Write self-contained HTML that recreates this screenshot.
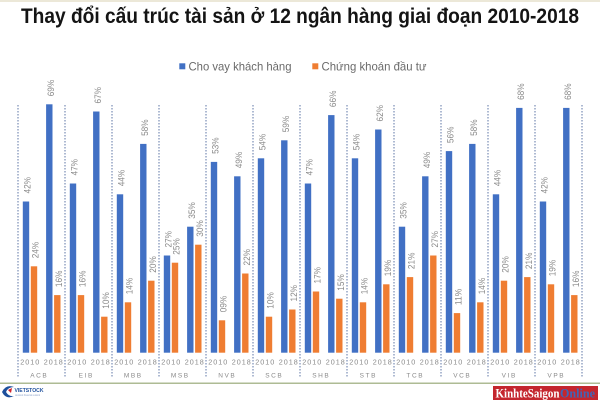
<!DOCTYPE html>
<html>
<head>
<meta charset="utf-8">
<style>
html,body{margin:0;padding:0;background:#fff;}
svg{display:block;}
.t{font-family:"Liberation Sans",sans-serif;}
.lbl{font-family:"Liberation Sans",sans-serif;font-size:9.5px;fill:#8a8a8a;}
.yr{font-family:"Liberation Sans",sans-serif;font-size:7.2px;fill:#8a8a8a;}
.bk{font-family:"Liberation Sans",sans-serif;font-size:6.5px;fill:#8a8a8a;}
.b{fill:#4170c4;}
.o{fill:#ef7d32;}
.sep{stroke:#5d74a6;stroke-width:1;stroke-dasharray:1.5 1.5;}
</style>
</head>
<body>
<svg width="600" height="400" viewBox="0 0 600 400" xmlns="http://www.w3.org/2000/svg">
<rect x="0" y="0" width="600" height="400" fill="#ffffff"/>
<rect x="0" y="0" width="600" height="2" fill="#ece8d8"/>

<text class="t" x="21" y="23" font-size="21.5" font-weight="bold" fill="#141414" textLength="558" lengthAdjust="spacingAndGlyphs">Thay đổi cấu trúc tài sản ở 12 ngân hàng giai đoạn 2010-2018</text>

<rect x="179.3" y="63.3" width="6" height="6" fill="#4170c4"/>
<text class="t" x="188.5" y="70.5" font-size="12" fill="#6a6a6a" textLength="103" lengthAdjust="spacingAndGlyphs">Cho vay khách hàng</text>
<rect x="312.3" y="63.3" width="6" height="6" fill="#ef7d32"/>
<text class="t" x="321.5" y="70.5" font-size="12" fill="#6a6a6a" textLength="105" lengthAdjust="spacingAndGlyphs">Chứng khoán đầu tư</text>

<!-- separators -->
<g class="sep">
<line x1="18" y1="105" x2="18" y2="378"/>
<line x1="65" y1="105" x2="65" y2="378"/>
<line x1="112" y1="105" x2="112" y2="378"/>
<line x1="159" y1="105" x2="159" y2="378"/>
<line x1="206" y1="105" x2="206" y2="378"/>
<line x1="253" y1="105" x2="253" y2="378"/>
<line x1="300" y1="105" x2="300" y2="378"/>
<line x1="347" y1="105" x2="347" y2="378"/>
<line x1="394" y1="105" x2="394" y2="378"/>
<line x1="441" y1="105" x2="441" y2="378"/>
<line x1="488" y1="105" x2="488" y2="378"/>
<line x1="535" y1="105" x2="535" y2="378"/>
<line x1="582" y1="105" x2="582" y2="378"/>
</g>

<!-- blue 2010 -->
<rect class="b" x="22.8" y="201.5" width="6.4" height="151.2"/>
<rect class="b" x="69.8" y="183.5" width="6.4" height="169.2"/>
<rect class="b" x="116.8" y="194.3" width="6.4" height="158.4"/>
<rect class="b" x="163.8" y="255.5" width="6.4" height="97.2"/>
<rect class="b" x="210.8" y="161.9" width="6.4" height="190.8"/>
<rect class="b" x="257.8" y="158.3" width="6.4" height="194.4"/>
<rect class="b" x="304.8" y="183.5" width="6.4" height="169.2"/>
<rect class="b" x="351.8" y="158.3" width="6.4" height="194.4"/>
<rect class="b" x="398.8" y="226.7" width="6.4" height="126"/>
<rect class="b" x="445.8" y="151.1" width="6.4" height="201.6"/>
<rect class="b" x="492.8" y="194.3" width="6.4" height="158.4"/>
<rect class="b" x="539.8" y="201.5" width="6.4" height="151.2"/>

<!-- orange 2010 -->
<rect class="o" x="30.8" y="266.3" width="6.4" height="86.4"/>
<rect class="o" x="77.8" y="295.1" width="6.4" height="57.6"/>
<rect class="o" x="124.8" y="302.3" width="6.4" height="50.4"/>
<rect class="o" x="171.8" y="262.7" width="6.4" height="90"/>
<rect class="o" x="218.8" y="320.3" width="6.4" height="32.4"/>
<rect class="o" x="265.8" y="316.7" width="6.4" height="36"/>
<rect class="o" x="312.8" y="291.5" width="6.4" height="61.2"/>
<rect class="o" x="359.8" y="302.3" width="6.4" height="50.4"/>
<rect class="o" x="406.8" y="277.1" width="6.4" height="75.6"/>
<rect class="o" x="453.8" y="313.1" width="6.4" height="39.6"/>
<rect class="o" x="500.8" y="280.7" width="6.4" height="72"/>
<rect class="o" x="547.8" y="284.3" width="6.4" height="68.4"/>

<!-- blue 2018 -->
<rect class="b" x="46.1" y="104.3" width="6.4" height="248.4"/>
<rect class="b" x="93.1" y="111.5" width="6.4" height="241.2"/>
<rect class="b" x="140.1" y="143.9" width="6.4" height="208.8"/>
<rect class="b" x="187.1" y="226.7" width="6.4" height="126"/>
<rect class="b" x="234.1" y="176.3" width="6.4" height="176.4"/>
<rect class="b" x="281.1" y="140.3" width="6.4" height="212.4"/>
<rect class="b" x="328.1" y="115.1" width="6.4" height="237.6"/>
<rect class="b" x="375.1" y="129.5" width="6.4" height="223.2"/>
<rect class="b" x="422.1" y="176.3" width="6.4" height="176.4"/>
<rect class="b" x="469.1" y="143.9" width="6.4" height="208.8"/>
<rect class="b" x="516.1" y="107.9" width="6.4" height="244.8"/>
<rect class="b" x="563.1" y="107.9" width="6.4" height="244.8"/>

<!-- orange 2018 -->
<rect class="o" x="54.1" y="295.1" width="6.4" height="57.6"/>
<rect class="o" x="101.1" y="316.7" width="6.4" height="36"/>
<rect class="o" x="148.1" y="280.7" width="6.4" height="72"/>
<rect class="o" x="195.1" y="244.7" width="6.4" height="108"/>
<rect class="o" x="242.1" y="273.5" width="6.4" height="79.2"/>
<rect class="o" x="289.1" y="309.5" width="6.4" height="43.2"/>
<rect class="o" x="336.1" y="298.7" width="6.4" height="54"/>
<rect class="o" x="383.1" y="284.3" width="6.4" height="68.4"/>
<rect class="o" x="430.1" y="255.5" width="6.4" height="97.2"/>
<rect class="o" x="477.1" y="302.3" width="6.4" height="50.4"/>
<rect class="o" x="524.1" y="277.1" width="6.4" height="75.6"/>
<rect class="o" x="571.1" y="295.1" width="6.4" height="57.6"/>

<!-- value labels -->
<g>
<text class="lbl" transform="translate(30.6,193.5) rotate(-90)" textLength="16.5" lengthAdjust="spacingAndGlyphs">42%</text>
<text class="lbl" transform="translate(77.6,175.5) rotate(-90)" textLength="16.5" lengthAdjust="spacingAndGlyphs">47%</text>
<text class="lbl" transform="translate(124.6,186.3) rotate(-90)" textLength="16.5" lengthAdjust="spacingAndGlyphs">44%</text>
<text class="lbl" transform="translate(171.6,247.5) rotate(-90)" textLength="16.5" lengthAdjust="spacingAndGlyphs">27%</text>
<text class="lbl" transform="translate(218.6,153.9) rotate(-90)" textLength="16.5" lengthAdjust="spacingAndGlyphs">53%</text>
<text class="lbl" transform="translate(265.6,150.3) rotate(-90)" textLength="16.5" lengthAdjust="spacingAndGlyphs">54%</text>
<text class="lbl" transform="translate(312.6,175.5) rotate(-90)" textLength="16.5" lengthAdjust="spacingAndGlyphs">47%</text>
<text class="lbl" transform="translate(359.6,150.3) rotate(-90)" textLength="16.5" lengthAdjust="spacingAndGlyphs">54%</text>
<text class="lbl" transform="translate(406.6,218.7) rotate(-90)" textLength="16.5" lengthAdjust="spacingAndGlyphs">35%</text>
<text class="lbl" transform="translate(453.6,143.1) rotate(-90)" textLength="16.5" lengthAdjust="spacingAndGlyphs">56%</text>
<text class="lbl" transform="translate(500.6,186.3) rotate(-90)" textLength="16.5" lengthAdjust="spacingAndGlyphs">44%</text>
<text class="lbl" transform="translate(547.6,193.5) rotate(-90)" textLength="16.5" lengthAdjust="spacingAndGlyphs">42%</text>

<text class="lbl" transform="translate(38.6,258.3) rotate(-90)" textLength="16.5" lengthAdjust="spacingAndGlyphs">24%</text>
<text class="lbl" transform="translate(85.6,287.1) rotate(-90)" textLength="16.5" lengthAdjust="spacingAndGlyphs">16%</text>
<text class="lbl" transform="translate(132.6,294.3) rotate(-90)" textLength="16.5" lengthAdjust="spacingAndGlyphs">14%</text>
<text class="lbl" transform="translate(179.6,254.7) rotate(-90)" textLength="16.5" lengthAdjust="spacingAndGlyphs">25%</text>
<text class="lbl" transform="translate(226.6,312.3) rotate(-90)" textLength="16.5" lengthAdjust="spacingAndGlyphs">09%</text>
<text class="lbl" transform="translate(273.6,308.7) rotate(-90)" textLength="16.5" lengthAdjust="spacingAndGlyphs">10%</text>
<text class="lbl" transform="translate(320.6,283.5) rotate(-90)" textLength="16.5" lengthAdjust="spacingAndGlyphs">17%</text>
<text class="lbl" transform="translate(367.6,294.3) rotate(-90)" textLength="16.5" lengthAdjust="spacingAndGlyphs">14%</text>
<text class="lbl" transform="translate(414.6,269.1) rotate(-90)" textLength="16.5" lengthAdjust="spacingAndGlyphs">21%</text>
<text class="lbl" transform="translate(461.6,305.1) rotate(-90)" textLength="16.5" lengthAdjust="spacingAndGlyphs">11%</text>
<text class="lbl" transform="translate(508.6,272.7) rotate(-90)" textLength="16.5" lengthAdjust="spacingAndGlyphs">20%</text>
<text class="lbl" transform="translate(555.6,276.3) rotate(-90)" textLength="16.5" lengthAdjust="spacingAndGlyphs">19%</text>

<text class="lbl" transform="translate(53.9,96.3) rotate(-90)" textLength="16.5" lengthAdjust="spacingAndGlyphs">69%</text>
<text class="lbl" transform="translate(100.9,103.5) rotate(-90)" textLength="16.5" lengthAdjust="spacingAndGlyphs">67%</text>
<text class="lbl" transform="translate(147.9,135.9) rotate(-90)" textLength="16.5" lengthAdjust="spacingAndGlyphs">58%</text>
<text class="lbl" transform="translate(194.9,218.7) rotate(-90)" textLength="16.5" lengthAdjust="spacingAndGlyphs">35%</text>
<text class="lbl" transform="translate(241.9,168.3) rotate(-90)" textLength="16.5" lengthAdjust="spacingAndGlyphs">49%</text>
<text class="lbl" transform="translate(288.9,132.3) rotate(-90)" textLength="16.5" lengthAdjust="spacingAndGlyphs">59%</text>
<text class="lbl" transform="translate(335.9,107.1) rotate(-90)" textLength="16.5" lengthAdjust="spacingAndGlyphs">66%</text>
<text class="lbl" transform="translate(382.9,121.5) rotate(-90)" textLength="16.5" lengthAdjust="spacingAndGlyphs">62%</text>
<text class="lbl" transform="translate(429.9,168.3) rotate(-90)" textLength="16.5" lengthAdjust="spacingAndGlyphs">49%</text>
<text class="lbl" transform="translate(476.9,135.9) rotate(-90)" textLength="16.5" lengthAdjust="spacingAndGlyphs">58%</text>
<text class="lbl" transform="translate(523.9,99.9) rotate(-90)" textLength="16.5" lengthAdjust="spacingAndGlyphs">68%</text>
<text class="lbl" transform="translate(570.9,99.9) rotate(-90)" textLength="16.5" lengthAdjust="spacingAndGlyphs">68%</text>

<text class="lbl" transform="translate(61.9,287.1) rotate(-90)" textLength="16.5" lengthAdjust="spacingAndGlyphs">16%</text>
<text class="lbl" transform="translate(108.9,308.7) rotate(-90)" textLength="16.5" lengthAdjust="spacingAndGlyphs">10%</text>
<text class="lbl" transform="translate(155.9,272.7) rotate(-90)" textLength="16.5" lengthAdjust="spacingAndGlyphs">20%</text>
<text class="lbl" transform="translate(202.9,236.7) rotate(-90)" textLength="16.5" lengthAdjust="spacingAndGlyphs">30%</text>
<text class="lbl" transform="translate(249.9,265.5) rotate(-90)" textLength="16.5" lengthAdjust="spacingAndGlyphs">22%</text>
<text class="lbl" transform="translate(296.9,301.5) rotate(-90)" textLength="16.5" lengthAdjust="spacingAndGlyphs">12%</text>
<text class="lbl" transform="translate(343.9,290.7) rotate(-90)" textLength="16.5" lengthAdjust="spacingAndGlyphs">15%</text>
<text class="lbl" transform="translate(390.9,276.3) rotate(-90)" textLength="16.5" lengthAdjust="spacingAndGlyphs">19%</text>
<text class="lbl" transform="translate(437.9,247.5) rotate(-90)" textLength="16.5" lengthAdjust="spacingAndGlyphs">27%</text>
<text class="lbl" transform="translate(484.9,294.3) rotate(-90)" textLength="16.5" lengthAdjust="spacingAndGlyphs">14%</text>
<text class="lbl" transform="translate(531.9,269.1) rotate(-90)" textLength="16.5" lengthAdjust="spacingAndGlyphs">21%</text>
<text class="lbl" transform="translate(578.9,287.1) rotate(-90)" textLength="16.5" lengthAdjust="spacingAndGlyphs">16%</text>
</g>

<!-- year labels -->
<g text-anchor="middle">
<text class="yr" x="29.75" y="364.5" textLength="19" lengthAdjust="spacing">2010</text><text class="yr" x="53.25" y="364.5" textLength="19" lengthAdjust="spacing">2018</text>
<text class="yr" x="76.75" y="364.5" textLength="19" lengthAdjust="spacing">2010</text><text class="yr" x="100.25" y="364.5" textLength="19" lengthAdjust="spacing">2018</text>
<text class="yr" x="123.75" y="364.5" textLength="19" lengthAdjust="spacing">2010</text><text class="yr" x="147.25" y="364.5" textLength="19" lengthAdjust="spacing">2018</text>
<text class="yr" x="170.75" y="364.5" textLength="19" lengthAdjust="spacing">2010</text><text class="yr" x="194.25" y="364.5" textLength="19" lengthAdjust="spacing">2018</text>
<text class="yr" x="217.75" y="364.5" textLength="19" lengthAdjust="spacing">2010</text><text class="yr" x="241.25" y="364.5" textLength="19" lengthAdjust="spacing">2018</text>
<text class="yr" x="264.75" y="364.5" textLength="19" lengthAdjust="spacing">2010</text><text class="yr" x="288.25" y="364.5" textLength="19" lengthAdjust="spacing">2018</text>
<text class="yr" x="311.75" y="364.5" textLength="19" lengthAdjust="spacing">2010</text><text class="yr" x="335.25" y="364.5" textLength="19" lengthAdjust="spacing">2018</text>
<text class="yr" x="358.75" y="364.5" textLength="19" lengthAdjust="spacing">2010</text><text class="yr" x="382.25" y="364.5" textLength="19" lengthAdjust="spacing">2018</text>
<text class="yr" x="405.75" y="364.5" textLength="19" lengthAdjust="spacing">2010</text><text class="yr" x="429.25" y="364.5" textLength="19" lengthAdjust="spacing">2018</text>
<text class="yr" x="452.75" y="364.5" textLength="19" lengthAdjust="spacing">2010</text><text class="yr" x="476.25" y="364.5" textLength="19" lengthAdjust="spacing">2018</text>
<text class="yr" x="499.75" y="364.5" textLength="19" lengthAdjust="spacing">2010</text><text class="yr" x="523.25" y="364.5" textLength="19" lengthAdjust="spacing">2018</text>
<text class="yr" x="546.75" y="364.5" textLength="19" lengthAdjust="spacing">2010</text><text class="yr" x="570.25" y="364.5" textLength="19" lengthAdjust="spacing">2018</text>
</g>

<!-- bank labels -->
<g text-anchor="middle" style="letter-spacing:1.6px">
<text class="bk" x="39.3" y="377.5">ACB</text>
<text class="bk" x="86.3" y="377.5">EIB</text>
<text class="bk" x="133.3" y="377.5">MBB</text>
<text class="bk" x="180.3" y="377.5">MSB</text>
<text class="bk" x="227.3" y="377.5">NVB</text>
<text class="bk" x="274.3" y="377.5">SCB</text>
<text class="bk" x="321.3" y="377.5">SHB</text>
<text class="bk" x="368.3" y="377.5">STB</text>
<text class="bk" x="415.3" y="377.5">TCB</text>
<text class="bk" x="462.3" y="377.5">VCB</text>
<text class="bk" x="509.3" y="377.5">VIB</text>
<text class="bk" x="556.3" y="377.5">VPB</text>
</g>

<!-- bottom line -->
<rect x="0" y="382.5" width="600" height="1.5" fill="#aebb94"/>

<!-- Vietstock logo -->
<path d="M2,392 Q6,384 14,387 Q8,387 6,392 Q9,397 14,396 Q6,400 2,392 Z" fill="#1d4f9c"/>
<path d="M8,390 L12,388 L11,393 Z" fill="#d3232a"/>
<text class="t" x="14.5" y="392" font-size="5.5" font-weight="bold" fill="#1d4f9c" textLength="29" lengthAdjust="spacingAndGlyphs">VIETSTOCK</text>
<text class="t" x="15" y="396" font-size="2.5" fill="#8aa0c8" textLength="25" lengthAdjust="spacingAndGlyphs">vietstock financial network</text>

<!-- KinhteSaigon Online logo -->
<rect x="493" y="386" width="105" height="14" fill="#c4262e"/>
<text x="495.5" y="397.5" font-family="'Liberation Serif',serif" font-size="12.5" font-weight="bold" fill="#ffffff" textLength="64" lengthAdjust="spacingAndGlyphs">KinhteSaigon</text>
<text x="560" y="397.5" font-family="'Liberation Serif',serif" font-size="12.5" font-weight="bold" fill="#3f66b8" textLength="35" lengthAdjust="spacingAndGlyphs">Online</text>
</svg>
</body>
</html>
